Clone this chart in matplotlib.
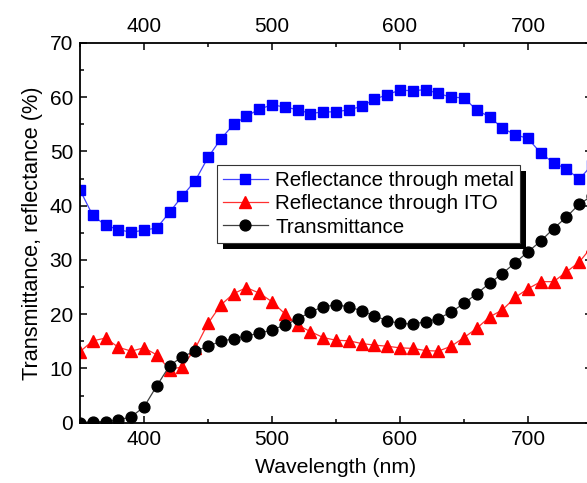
import matplotlib
matplotlib.use("Agg")
import matplotlib.pyplot as plt
from matplotlib.patches import Rectangle
from matplotlib.ticker import MultipleLocator

plt.rcParams['font.family'] = ['Liberation Sans', 'DejaVu Sans']

wavelength = [350, 360, 370, 380, 390, 400, 410, 420, 430, 440,
              450, 460, 470, 480, 490, 500, 510, 520, 530, 540,
              550, 560, 570, 580, 590, 600, 610, 620, 630, 640,
              650, 660, 670, 680, 690, 700, 710, 720, 730, 740, 750]

refl_metal = [42.9, 38.2, 36.4, 35.6, 35.1, 35.5, 35.9, 38.8, 41.8, 44.6,
              48.9, 52.3, 55.0, 56.5, 57.8, 58.6, 58.2, 57.7, 57.0, 57.3,
              57.3, 57.7, 58.3, 59.6, 60.5, 61.3, 61.2, 61.4, 60.7, 60.0,
              59.9, 57.6, 56.4, 54.3, 53.1, 52.4, 49.7, 47.9, 46.8, 44.9, 47.5]

refl_ito = [13.1, 15.1, 15.6, 13.9, 13.2, 13.8, 12.5, 9.8, 10.3, 13.7,
            18.3, 21.7, 23.8, 24.9, 23.9, 22.3, 20.1, 18.0, 16.8, 15.7,
            15.2, 15.1, 14.6, 14.3, 14.1, 13.8, 13.7, 13.3, 13.2, 14.1,
            15.7, 17.4, 19.5, 20.8, 23.1, 24.7, 26.0, 26.0, 27.8, 29.6, 32.5]

transmittance = [0.0, 0.2, 0.2, 0.5, 1.1, 2.9, 6.8, 10.5, 12.2, 13.2,
                 14.1, 15.0, 15.5, 16.0, 16.5, 17.1, 18.0, 19.1, 20.4, 21.4,
                 21.7, 21.4, 20.6, 19.7, 18.8, 18.3, 18.2, 18.6, 19.2, 20.4,
                 22.0, 23.8, 25.7, 27.5, 29.5, 31.5, 33.5, 35.8, 37.9, 40.3, 41.8]

labels = ["Reflectance through metal", "Reflectance through ITO", "Transmittance"]

W, H = 587, 483
fig = plt.figure(figsize=(W / 100, H / 100), dpi=100)
ax = fig.add_axes([80 / W, 60.3 / H, 512 / W, 379.7 / H])

ax.plot(wavelength, refl_metal, color='#4040ff', lw=0.9, marker='s', ms=7.8,
        mfc='#0000ff', mec='#0000ff', label=labels[0])
ax.plot(wavelength, refl_ito, color='#ff3030', lw=0.9, marker='^', ms=8.8,
        mfc='#ff0000', mec='#ff0000', label=labels[1])
ax.plot(wavelength, transmittance, color='#404040', lw=0.9, marker='o', ms=7.8,
        mfc='black', mec='black', label=labels[2])

ax.set_xlim(350, 750)
ax.set_ylim(0, 70)
ax.xaxis.set_major_locator(MultipleLocator(100))
ax.xaxis.set_minor_locator(MultipleLocator(50))
ax.yaxis.set_major_locator(MultipleLocator(10))
ax.yaxis.set_minor_locator(MultipleLocator(5))
ax.tick_params(which='both', direction='in', top=True, right=True,
               labeltop=True, labelright=False, width=1.1, labelsize=15, pad=5)
ax.tick_params(which='major', length=5)
ax.tick_params(which='minor', length=3)
for s in ax.spines.values():
    s.set_linewidth(1.3)

ax.set_xlabel("Wavelength (nm)", fontsize=15.3, labelpad=7)
ax.set_ylabel("Transmittance, reflectance (%)", fontsize=15.6, labelpad=5)

leg = ax.legend(loc='upper left', bbox_to_anchor=((216.7 - 80) / 512, (422.7 - 165) / 380),
                borderaxespad=0, fancybox=False, framealpha=1, edgecolor='#333333',
                fontsize=14.8, handlelength=2.2, labelspacing=0.2, borderpad=0.3,
                handletextpad=0.35)
leg.get_frame().set_linewidth(0.8)
leg.set_zorder(5)

fig.canvas.draw()
bb = leg.get_window_extent().transformed(fig.transFigure.inverted())
dx, dy = 6 / W, 6 / H
shadow = Rectangle((bb.x0 + dx, bb.y0 - dy), bb.width, bb.height,
                   transform=fig.transFigure, facecolor='black', edgecolor='none', zorder=4)
ax.add_artist(shadow)
shadow.set_clip_on(False)

fig.savefig("out.png", dpi=100)
